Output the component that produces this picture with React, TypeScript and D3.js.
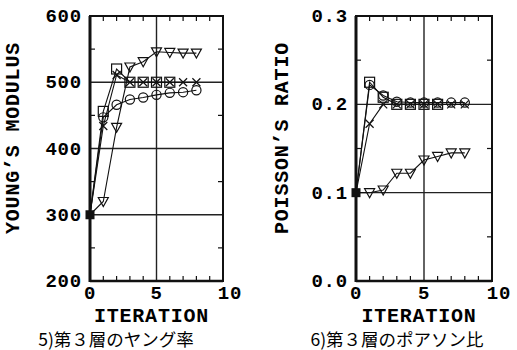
import React from "react";
import * as d3 from "d3";

const iterations = [0, 1, 2, 3, 4, 5, 6, 7, 8];

// Young's modulus (layer 3)
const youngSquare = [300, 456, 520, 500, 500, 500, 500];
const youngCross = [300, 434, 511, 500, 500, 500, 500, 500, 500];
const youngCircle = [300, 447, 466, 474, 477, 481, 484, 485, 488];
const youngTriangle = [300, 320, 432, 523, 531, 546, 545, 544, 544];

// Poisson's ratio (layer 3)
const poissonSquare = [0.1, 0.225, 0.208, 0.2, 0.2, 0.2, 0.2];
const poissonCross = [0.1, 0.178, 0.2, 0.2, 0.2, 0.2, 0.2, 0.2, 0.2];
const poissonCircle = [0.1, 0.222, 0.21, 0.203, 0.202, 0.202, 0.202, 0.202, 0.202];
const poissonTriangle = [0.1, 0.1, 0.103, 0.122, 0.122, 0.137, 0.141, 0.145, 0.145];

const xTicks = [0, 5, 10];
const youngTicks = [200, 300, 400, 500, 600];
const youngTickLabels = ["200", "300", "400", "500", "600"];
const poissonTicks = [0, 0.1, 0.2, 0.3];
const poissonTickLabels = ["0.0", "0.1", "0.2", "0.3"];

const MONO = "'Liberation Mono', 'DejaVu Sans Mono', monospace";
const CJK = "'Noto Sans CJK JP', sans-serif";

type Shape = "square" | "cross" | "circle" | "triangle";

function Marker({ x, y, shape }: { x: number; y: number; shape: Shape }) {
  const s = 5;
  const common = { stroke: "#111", strokeWidth: 1.2, fill: "none" };
  if (shape === "square") return <rect x={x - s} y={y - s} width={2 * s} height={2 * s} {...common} />;
  if (shape === "circle") return <circle cx={x} cy={y} r={4.6} {...common} />;
  if (shape === "cross")
    return <path d={`M${x - 4},${y - 4}L${x + 4},${y + 4}M${x - 4},${y + 4}L${x + 4},${y - 4}`} {...common} />;
  return <path d={`M${x - 5},${y - 4}L${x + 5},${y - 4}L${x},${y + 5}Z`} {...common} />;
}

function Panel({
  x0, x1, yDomain, yTicks, yTickLabels, minorY, series, yLabel, caption, labelX, captionX,
}: {
  x0: number; x1: number; yDomain: [number, number]; yTicks: number[]; yTickLabels: string[];
  minorY: number[]; series: { vals: number[]; shape: Shape }[]; yLabel: string; caption: string;
  labelX: number; captionX: number;
}) {
  const top = 16, bottom = 281;
  const x = d3.scaleLinear().domain([0, 10]).range([x0, x1]);
  const y = d3.scaleLinear().domain(yDomain).range([bottom, top]);
  const line = d3.line<number>().x((_, i) => x(iterations[i])).y((d) => y(d));
  const minorX = d3.range(1, 10).filter((v) => v !== 5);
  const innerY = yTicks.filter((t) => t !== yDomain[0] && t !== yDomain[1]);
  const cx = (x0 + x1) / 2;
  return (
    <g>
      {innerY.map((t) => (
        <line key={"g" + t} x1={x0} x2={x1} y1={y(t)} y2={y(t)} stroke="#222" strokeWidth={1.4} />
      ))}
      <line x1={x(5)} x2={x(5)} y1={top} y2={bottom} stroke="#222" strokeWidth={1.4} />
      {minorX.map((v) => (
        <g key={"mx" + v}>
          <line x1={x(v)} x2={x(v)} y1={bottom} y2={bottom - 5} stroke="#111" strokeWidth={1.2} />
          <line x1={x(v)} x2={x(v)} y1={top} y2={top + 5} stroke="#111" strokeWidth={1.2} />
        </g>
      ))}
      {minorY.map((v) => (
        <g key={"my" + v}>
          <line x1={x0} x2={x0 + 5} y1={y(v)} y2={y(v)} stroke="#111" strokeWidth={1.2} />
          <line x1={x1} x2={x1 - 5} y1={y(v)} y2={y(v)} stroke="#111" strokeWidth={1.2} />
        </g>
      ))}
      <rect x={x0} y={top} width={x1 - x0} height={bottom - top} fill="none" stroke="#111" strokeWidth={2} />
      <line x1={x0} x2={x0} y1={top} y2={bottom + 1} stroke="#111" strokeWidth={3} />
      <line x1={x0} x2={x1} y1={bottom} y2={bottom} stroke="#111" strokeWidth={2.6} />
      {series.map((s, si) => (
        <g key={"s" + si}>
          <path d={line(s.vals) || ""} fill="none" stroke="#111" strokeWidth={1.1} />
          {s.vals.map((v, i) =>
            i === 0 ? null : <Marker key={i} x={x(iterations[i])} y={y(v)} shape={s.shape} />
          )}
        </g>
      ))}
      <rect x={x(0) - 4.5} y={y(series[0].vals[0]) - 4.5} width={9} height={9} fill="#111" />
      {yTicks.map((t, i) => (
        <text key={"yt" + t} x={x0 - 8} y={y(t) + 6} textAnchor="end" fontFamily={MONO} fontWeight="bold"
          fontSize={19} letterSpacing={0.8}>{yTickLabels[i]}</text>
      ))}
      {xTicks.map((t) => (
        <text key={"xt" + t} x={x(t) + (t === 10 ? 7 : 0)} y={299} textAnchor="middle" fontFamily={MONO}
          fontWeight="bold" fontSize={19} letterSpacing={0.8}>{String(t)}</text>
      ))}
      <text x={cx - 5} y={322} textAnchor="middle" fontFamily={MONO} fontWeight="bold" fontSize={20}
        letterSpacing={0.8}>ITERATION</text>
      <text transform={`translate(${labelX},138) rotate(-90)`} textAnchor="middle" fontFamily={MONO}
        fontWeight="bold" fontSize={20} letterSpacing={0.8}>{yLabel}</text>
      <text x={captionX} y={346} textAnchor="middle" fontFamily={CJK} fontSize={17.5}>{caption}</text>
    </g>
  );
}

export default function App() {
  return (
    <svg width={517} height={350} style={{ position: "absolute", left: 0, top: 0, background: "#fff" }}>
      <rect width={517} height={350} fill="#fff" />
      <Panel
        x0={90} x1={223} yDomain={[200, 600]} yTicks={youngTicks} yTickLabels={youngTickLabels}
        minorY={[250, 350, 450, 550]}
        series={[
          { vals: youngSquare, shape: "square" },
          { vals: youngCross, shape: "cross" },
          { vals: youngCircle, shape: "circle" },
          { vals: youngTriangle, shape: "triangle" },
        ]}
        yLabel="YOUNG’S MODULUS" caption="5)第３層のヤング率" labelX={19} captionX={116}
      />
      <Panel
        x0={356} x1={492} yDomain={[0, 0.3]} yTicks={poissonTicks} yTickLabels={poissonTickLabels}
        minorY={[0.05, 0.15, 0.25]}
        series={[
          { vals: poissonSquare, shape: "square" },
          { vals: poissonCross, shape: "cross" },
          { vals: poissonCircle, shape: "circle" },
          { vals: poissonTriangle, shape: "triangle" },
        ]}
        yLabel="POISSON’S RATIO" caption="6)第３層のポアソン比" labelX={288} captionX={397}
      />
    </svg>
  );
}
